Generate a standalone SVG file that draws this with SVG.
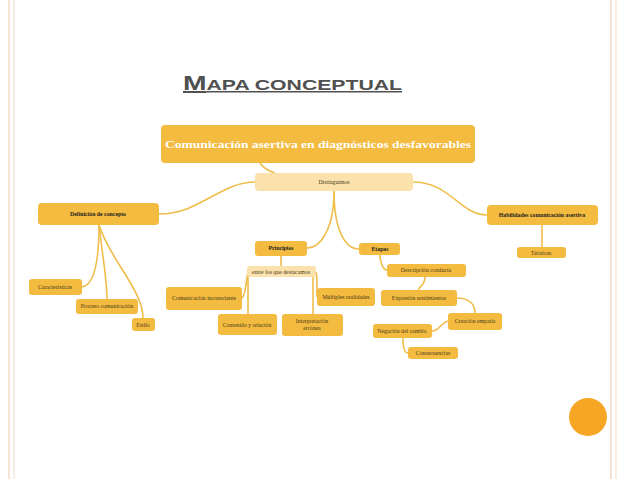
<svg xmlns="http://www.w3.org/2000/svg" width="638" height="479" viewBox="0 0 638 479">
<style>
.n{fill:#f3bb3f}
.l{fill:#fbe2ad}
.c{fill:none;stroke:#efbe4a;stroke-width:1.6}
text{font-family:"Liberation Serif","DejaVu Serif",serif;font-size:5.8px;fill:#4a3a1a;text-anchor:middle}
.b{font-weight:bold;fill:#222}
</style>
<rect width="638" height="479" fill="#fff"/>
<line x1="9" y1="0" x2="9" y2="479" stroke="#f0dcc8" stroke-width="1.5"/>
<line x1="14" y1="0" x2="14" y2="479" stroke="#f0dcc8" stroke-width="1"/>
<line x1="611" y1="0" x2="611" y2="479" stroke="#f0dcc8" stroke-width="1.5"/>
<line x1="616" y1="0" x2="616" y2="479" stroke="#f0dcc8" stroke-width="1"/>
<circle cx="588" cy="417" r="19" fill="#f6a623"/>
<text x="183" y="90" textLength="219" lengthAdjust="spacingAndGlyphs" style="font-family:'Liberation Sans',sans-serif;font-size:20px;font-weight:bold;fill:#505050;text-anchor:start;text-decoration:underline">M<tspan font-size="15">APA CONCEPTUAL</tspan></text>
<g id="connectors">
<path class="c" d="M260 163 Q265 170 275 173"/>
<path class="c" d="M159 214 C200 214 220 182 255 182"/>
<path class="c" d="M413 182 C450 182 460 215 487 215"/>
<path class="c" d="M334 191 C334 230 320 248 307 248"/>
<path class="c" d="M334 191 C334 230 345 249 359 249"/>
<path class="c" d="M542 225 V247"/>
<path class="c" d="M99 225 C99 260 95 285 82 287"/>
<path class="c" d="M99 225 C103 260 107 280 107 299"/>
<path class="c" d="M99 225 C110 260 143 290 143 318"/>
<path class="c" d="M281 256 V266"/>
<path class="c" d="M248 272 C246 280 246 295 242 298"/>
<path class="c" d="M248 272 V314"/>
<path class="c" d="M313 272 V314"/>
<path class="c" d="M316 272 C318 280 316 295 317 297"/>
<path class="c" d="M380 255 C380 262 383 270 387 270"/>
<path class="c" d="M425 277 C425 285 420 286 418 290"/>
<path class="c" d="M457 298 C470 298 475 305 475 313"/>
<path class="c" d="M448 321 C440 323 440 331 432 331"/>
<path class="c" d="M403 338 C403 345 404 353 408 353"/>
</g>
<g id="title"><rect class="n" x="161" y="125" width="314" height="38" rx="4"/><text x="318" y="148" textLength="306" lengthAdjust="spacingAndGlyphs" style="font-size:11px;font-weight:bold;fill:#fff">Comunicación asertiva en diagnósticos desfavorables</text></g>
<g id="distinguimos"><rect class="l" x="255" y="173" width="158" height="18" rx="4"/><text x="334" y="184">Distinguimos</text></g>
<g id="definicion"><rect class="n" x="38" y="203" width="121" height="22" rx="4"/><text class="b" x="98" y="216">Definición de concepto</text></g>
<g id="caracteristicas"><rect class="n" x="29" y="279" width="53" height="16" rx="3"/><text x="55" y="289">Características</text></g>
<g id="proceso"><rect class="n" x="76" y="299" width="62" height="15" rx="3"/><text x="107" y="308">Proceso comunicación</text></g>
<g id="estilo"><rect class="n" x="132" y="318" width="23" height="13" rx="3"/><text x="143" y="327">Estilo</text></g>
<g id="principios"><rect class="n" x="255" y="241" width="52" height="15" rx="3"/><text class="b" x="281" y="250">Principios</text></g>
<g id="entre"><rect class="l" x="247" y="266" width="69" height="11" rx="3"/><text x="281" y="274">entre los que destacamos</text></g>
<g id="inconsciente"><rect class="n" x="166" y="287" width="76" height="23" rx="3"/><text x="204" y="300">Comunicación inconsciente</text></g>
<g id="contenido"><rect class="n" x="218" y="314" width="59" height="21" rx="3"/><text x="247" y="327">Contenido y relación</text></g>
<g id="interpretacion"><rect class="n" x="282" y="314" width="61" height="22" rx="3"/><text x="312" y="323">Interpretación</text><text x="312" y="330">errónea</text></g>
<g id="multiples"><rect class="n" x="317" y="288" width="58" height="18" rx="3"/><text x="346" y="299">Múltiples realidades</text></g>
<g id="etapas"><rect class="n" x="359" y="243" width="41" height="12" rx="3"/><text class="b" x="380" y="251">Etapas</text></g>
<g id="descripcion"><rect class="n" x="387" y="264" width="79" height="13" rx="3"/><text x="426" y="272">Descripción conducta</text></g>
<g id="expresion"><rect class="n" x="381" y="290" width="76" height="16" rx="3"/><text x="419" y="300">Expresión sentimientos</text></g>
<g id="empatia"><rect class="n" x="448" y="313" width="54" height="17" rx="3"/><text x="475" y="323">Creación empatía</text></g>
<g id="negacion"><rect class="n" x="373" y="324" width="59" height="14" rx="3"/><text x="402" y="333">Negación del cambio</text></g>
<g id="consecuencias"><rect class="n" x="408" y="347" width="50" height="12" rx="3"/><text x="433" y="355">Consecuencias</text></g>
<g id="habilidades"><rect class="n" x="487" y="205" width="111" height="20" rx="4"/><text class="b" x="542" y="217">Habilidades comunicación asertiva</text></g>
<g id="tecnicas"><rect class="n" x="517" y="247" width="49" height="11" rx="3"/><text x="541" y="255">Técnicas</text></g>
</svg>
